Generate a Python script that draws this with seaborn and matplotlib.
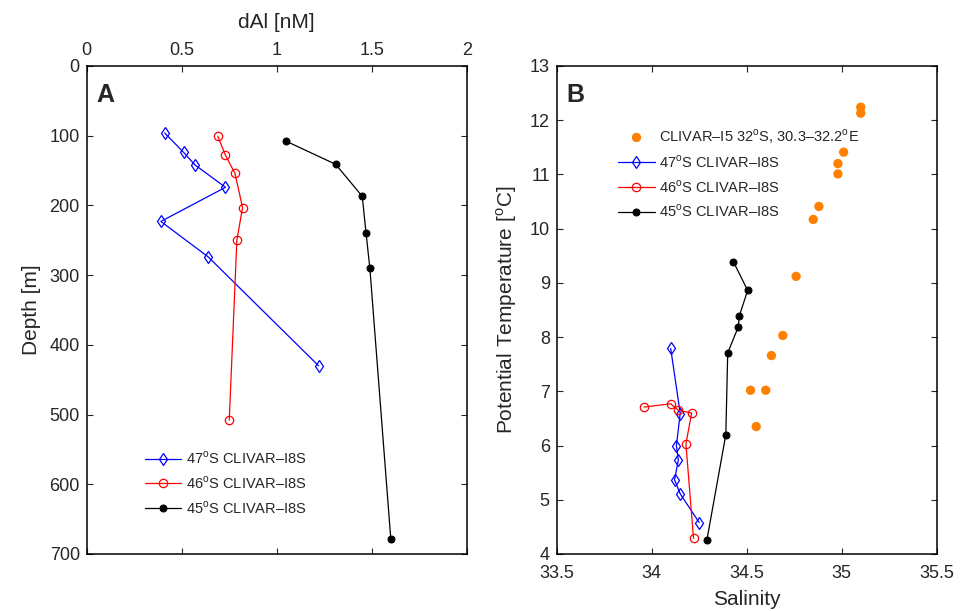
import matplotlib
matplotlib.use('Agg')
import matplotlib.pyplot as plt
import seaborn as sns

# Panel A: dAl profiles (dAl [nM] vs depth [m])
al_47 = [0.41, 0.51, 0.57, 0.73, 0.39, 0.64, 1.22]
depth_47 = [96, 124, 142, 174, 223, 274, 430]
al_46 = [0.69, 0.73, 0.78, 0.82, 0.79, 0.75]
depth_46 = [101, 128, 154, 203, 250, 508]
al_45 = [1.05, 1.31, 1.45, 1.47, 1.49, 1.60]
depth_45 = [108, 141, 187, 240, 290, 678]

# Panel B: potential temperature vs salinity
sal_i5 = [35.10, 35.10, 35.01, 34.98, 34.98, 34.88, 34.85, 34.76, 34.69, 34.63, 34.52, 34.60, 34.55]
temp_i5 = [12.24, 12.13, 11.41, 11.20, 11.01, 10.41, 10.17, 9.12, 8.03, 7.66, 7.02, 7.02, 6.35]
sal_47 = [34.10, 34.15, 34.13, 34.14, 34.12, 34.15, 34.25]
temp_47 = [7.79, 6.59, 6.00, 5.73, 5.37, 5.11, 4.58]
sal_46 = [33.96, 34.10, 34.14, 34.21, 34.18, 34.22]
temp_46 = [6.71, 6.77, 6.65, 6.60, 6.03, 4.29]
sal_45 = [34.43, 34.505, 34.46, 34.456, 34.40, 34.39, 34.29]
temp_45 = [9.39, 8.86, 8.38, 8.19, 7.71, 6.20, 4.25]

lab_47 = '47$^{\\rm o}$S CLIVAR\u2013I8S'
lab_46 = '46$^{\\rm o}$S CLIVAR\u2013I8S'
lab_45 = '45$^{\\rm o}$S CLIVAR\u2013I8S'
lab_i5 = 'CLIVAR\u2013I5 32$^{\\rm o}$S, 30.3\u201332.2$^{\\rm o}$E'

sns.set_style('ticks')
txt = '#262626'
plt.rcParams['font.family'] = ['Liberation Sans', 'DejaVu Sans']
plt.rcParams['mathtext.fontset'] = 'custom'
plt.rcParams['mathtext.rm'] = 'Liberation Sans'
plt.rcParams['text.color'] = txt
plt.rcParams['axes.labelcolor'] = txt
plt.rcParams['xtick.color'] = txt
plt.rcParams['ytick.color'] = txt

fig = plt.figure(figsize=(9.66, 6.11), dpi=100)
axA = fig.add_axes([0.0898, 0.0933, 0.3934, 0.7987])
axB = fig.add_axes([0.5763, 0.0933, 0.3934, 0.7987])

line_kw = dict(sort=False, estimator=None, linewidth=0.9, markersize=6)
leg_kw = dict(loc='upper left', frameon=False, fontsize=10.5, borderpad=0,
              borderaxespad=0, handlelength=2.5, handletextpad=0.3, labelspacing=0.55)

# Panel A
sns.lineplot(x=al_47, y=depth_47, ax=axA, color='#0000ff', marker='d', mfc='none',
             mec='#0000ff', mew=0.9, label=lab_47, **line_kw)
sns.lineplot(x=al_46, y=depth_46, ax=axA, color='#ff0000', marker='o', mfc='none',
             mec='#ff0000', mew=0.9, label=lab_46, **line_kw)
sns.lineplot(x=al_45, y=depth_45, ax=axA, color='black', marker='o', mfc='black',
             mec='black', label=lab_45, sort=False, estimator=None, linewidth=0.9, markersize=5)
axA.set_xlim(0, 2)
axA.set_ylim(700, 0)
axA.set_xticks([0, 0.5, 1, 1.5, 2])
axA.set_xticklabels(['0', '0.5', '1', '1.5', '2'])
axA.set_yticks(range(0, 701, 100))
axA.xaxis.set_label_position('top')
axA.xaxis.tick_top()
axA.set_xlabel('dAl [nM]', fontsize=15, labelpad=10)
axA.set_ylabel('Depth [m]', fontsize=15, labelpad=6)
axA.text(0.025, 0.94, 'A', transform=axA.transAxes, fontsize=18, fontweight='bold',
         va='center', ha='left', color=txt)
axA.legend(bbox_to_anchor=(0.153, 0.213), **leg_kw)

# Panel B
sns.scatterplot(x=sal_i5, y=temp_i5, ax=axB, color='#ff8000', s=45, edgecolor='none',
                label=lab_i5)
sns.lineplot(x=sal_47, y=temp_47, ax=axB, color='#0000ff', marker='d', mfc='none',
             mec='#0000ff', mew=0.9, label=lab_47, **line_kw)
sns.lineplot(x=sal_46, y=temp_46, ax=axB, color='#ff0000', marker='o', mfc='none',
             mec='#ff0000', mew=0.9, label=lab_46, **line_kw)
sns.lineplot(x=sal_45, y=temp_45, ax=axB, color='black', marker='o', mfc='black',
             mec='black', label=lab_45, sort=False, estimator=None, linewidth=0.9, markersize=5)
axB.set_xlim(33.5, 35.5)
axB.set_ylim(4, 13)
axB.set_xticks([33.5, 34, 34.5, 35, 35.5])
axB.set_xticklabels(['33.5', '34', '34.5', '35', '35.5'])
axB.set_yticks(range(4, 14))
axB.set_xlabel('Salinity', fontsize=15, labelpad=6)
axB.set_ylabel('Potential Temperature [$^{\\rm o}$C]', fontsize=15, labelpad=8)
axB.text(0.025, 0.94, 'B', transform=axB.transAxes, fontsize=18, fontweight='bold',
         va='center', ha='left', color=txt)
axB.legend(bbox_to_anchor=(0.162, 0.875), **leg_kw)

for ax in (axA, axB):
    for sp in ax.spines.values():
        sp.set_visible(True)
        sp.set_linewidth(1.1)
        sp.set_color('black')
    ax.tick_params(direction='in', length=4, width=0.8, labelsize=13,
                   top=True, bottom=True, left=True, right=True, pad=5)
axB.tick_params(axis='x', pad=8)

fig.savefig('out.png', dpi=100)
